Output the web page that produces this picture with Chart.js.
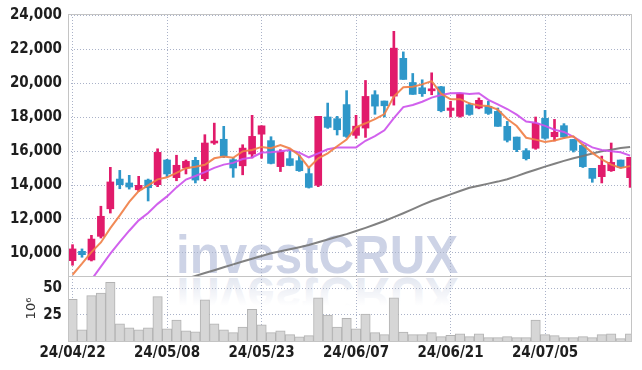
<!DOCTYPE html>
<html>
<head>
<meta charset="utf-8">
<script src="https://cdn.jsdelivr.net/npm/chart.js@4.4.1/dist/chart.umd.min.js"></script>
<style>
    html, body { margin: 0; padding: 0; background: #fff; }
    #wrap { position: relative; width: 642px; height: 370px; overflow: hidden; }
    .wm {
        position: absolute; left: 176px;
        font: bold 53px "Liberation Sans", Arial, sans-serif; line-height: 53px;
        color: #cdd3e6; white-space: nowrap;
    }
    #wmMain { top: 228px; transform-origin: 0 0; transform: scaleX(0.93); }
    #reflBox { position: absolute; left: 0; top: 276px; width: 642px; height: 30px; overflow: hidden; }
    #wmReflect { top: -47px; color: #dbe0ec; transform-origin: 0 47px; transform: scaleX(0.93) scaleY(-1); }
    #reflFade { position: absolute; left: 0; top: 0; width: 100%; height: 100%;
        background: linear-gradient(rgba(255,255,255,0.2), rgba(255,255,255,1)); }
    canvas { position: absolute; left: 0; }
    #priceChart { top: 0; }
    #volumeChart { top: 276px; }
</style>
</head>
<body>
<div id="wrap">
    <div class="wm" id="wmMain">investCRUX</div>
    <div id="reflBox">
        <div class="wm" id="wmReflect">investCRUX</div>
        <div id="reflFade"></div>
    </div>
    <canvas id="priceChart" width="642" height="277"></canvas>
    <canvas id="volumeChart" width="642" height="94"></canvas>
</div>
<script>
// ===== DATA =====
const dates = [
    '24/04/22','24/04/23','24/04/24','24/04/25','24/04/26','24/04/29','24/04/30','24/05/02','24/05/03','24/05/07',
    '24/05/08','24/05/09','24/05/10','24/05/13','24/05/14','24/05/16','24/05/17','24/05/20','24/05/21','24/05/22',
    '24/05/23','24/05/24','24/05/27','24/05/28','24/05/29','24/05/30','24/05/31','24/06/03','24/06/04','24/06/05',
    '24/06/07','24/06/10','24/06/11','24/06/12','24/06/13','24/06/14','24/06/17','24/06/18','24/06/19','24/06/20',
    '24/06/21','24/06/24','24/06/25','24/06/26','24/06/27','24/06/28','24/07/01','24/07/02','24/07/03','24/07/04',
    '24/07/05','24/07/08','24/07/09','24/07/10','24/07/11','24/07/12','24/07/15','24/07/16','24/07/17','24/07/18'
];

const opens = [
    9550, 10100, 9590, 10980, 12600, 14350, 14120, 13720, 14290, 14020,
    15470, 14430, 15000, 15450, 14370, 16470, 16690, 15490, 15130, 15820,
    16990, 16610, 15080, 15550, 15430, 14670, 13980, 18000, 17900, 18730,
    16920, 17350, 19310, 18940, 19230, 21450, 20030, 19720, 19540, 19780,
    18390, 18040, 18720, 18530, 18630, 18330, 17450, 16820, 16020, 16160,
    17920, 16840, 17490, 16680, 16330, 14980, 14490, 14840, 15470, 14430
];
const highs = [
    10490, 10240, 11040, 12750, 15040, 14860, 14570, 14510, 14350, 16130,
    15510, 15750, 15470, 15630, 16960, 17640, 17450, 15590, 16370, 18100,
    17480, 16840, 16080, 16100, 15760, 15000, 18040, 18820, 18040, 19550,
    18100, 20150, 19550, 18940, 23040, 21830, 20560, 20190, 20600, 19800,
    18920, 19370, 18820, 19120, 18920, 18530, 17740, 16820, 16140, 18000,
    18390, 17860, 17610, 16680, 16390, 14980, 15700, 16470, 15470, 15630
];
const lows = [
    9280, 9750, 9530, 10880, 12350, 13780, 13760, 13630, 13060, 13900,
    14490, 14250, 14650, 14120, 14250, 16390, 15610, 14450, 14600, 15590,
    15570, 15240, 14790, 15130, 14800, 13820, 13900, 17330, 16940, 16800,
    16750, 16800, 18160, 18000, 18700, 20210, 19330, 19210, 19310, 18300,
    18000, 17990, 18100, 18480, 18150, 17450, 16530, 15960, 15470, 16100,
    16690, 16590, 16760, 15940, 15030, 14160, 14120, 14800, 15000, 13860
];
const closes = [
    10240, 9900, 10820, 12160, 14180, 14020, 13880, 13980, 13840, 15920,
    14650, 15160, 15390, 14290, 16470, 16550, 15700, 15000, 16170, 16860,
    17480, 15270, 15960, 15150, 14840, 13860, 18040, 17390, 17250, 16860,
    17460, 19210, 18640, 18660, 22050, 20210, 19330, 19370, 19590, 18370,
    18530, 19370, 18150, 18980, 18210, 17450, 16630, 16080, 15550, 17630,
    16750, 17100, 16820, 16040, 15080, 14390, 15160, 15330, 15040, 15630
];

// moving averages (orange, purple, grey)
const ma5 = [
    8720, 9370, 10050, 10620, 11460, 12210, 13010, 13640, 13980, 14330,
    14450, 14710, 14990, 15080, 15190, 15570, 15680, 15600, 15980, 16060,
    16240, 16160, 16350, 16150, 15740, 15020, 15570, 15860, 16280, 16680,
    17400, 17630, 17880, 18170, 19200, 19750, 19780, 19920, 20110, 19370,
    19040, 19050, 18800, 18680, 18650, 18430, 17880, 17470, 16780, 16670,
    16530, 16620, 16770, 16870, 16360, 15890, 15500, 15200, 15000, 15110
];
const ma10 = [
    null, null, 8430, 9200, 9960, 10650, 11310, 11920, 12350, 12890,
    13330, 13860, 14320, 14530, 14760, 15010, 15200, 15300, 15530, 15620,
    15910, 15920, 15980, 16060, 15900, 15630, 15860, 16100, 16210, 16210,
    16210, 16600, 16870, 17220, 17940, 18580, 18710, 18900, 19140, 19290,
    19400, 19410, 19360, 19400, 19010, 18740, 18470, 18140, 17730, 17660,
    17480, 17250, 17120, 16830, 16510, 16210, 16060, 15980, 15930, 15730
];
const ma60 = [
    null, null, null, null, null, null, null, null, null, null,
    null, null, 8480, 8650, 8820, 8990, 9160, 9330, 9500, 9660,
    9820, 9980, 10100, 10220, 10340, 10470, 10630, 10790, 10960, 11110,
    11290, 11480, 11680, 11880, 12110, 12340, 12580, 12830, 13060, 13250,
    13450, 13650, 13840, 13960, 14080, 14200, 14340, 14520, 14720, 14900,
    15080, 15250, 15420, 15570, 15710, 15850, 15990, 16080, 16170, 16240
];

// volume, in millions
const volumes = [
    39.4, 10.6, 43.0, 45.5, 55.7, 16.2, 12.5, 10.6, 12.5, 42.1,
    11.6, 19.9, 9.7, 8.8, 39.1, 16.2, 10.6, 7.9, 13.1, 30.1,
    15.3, 7.9, 9.7, 6.0, 3.9, 5.1, 40.9, 24.5, 13.1, 21.5,
    11.6, 25.5, 7.9, 6.0, 40.9, 8.5, 6.0, 6.0, 7.9, 4.2,
    5.4, 6.9, 4.2, 6.7, 3.2, 3.2, 4.2, 3.2, 3.2, 19.9,
    6.0, 5.1, 3.2, 3.2, 4.2, 3.2, 6.0, 6.9, 2.3, 6.9
];

const priceTicks = [10000, 12000, 14000, 16000, 18000, 20000, 22000, 24000];
const volumeTicks = [25, 50];
const dateTickIdx = [0, 10, 20, 30, 40, 50];

// ===== STYLE =====
const PINK = '#e11b6b';
const BLUE = '#2e97c9';
const GRID = '#aab2c8';
const FRAME = '#c4c4c4';
const TEXT = '#1e1e1e';

Chart.defaults.font.family = "'Liberation Sans Narrow', 'DejaVu Sans Condensed', sans-serif";
Chart.defaults.font.size = 15;
Chart.defaults.font.weight = 'bold';
Chart.defaults.color = TEXT;

const framePlugin = {
    id: 'frame',
    afterDraw(chart) {
        const { ctx, chartArea: a } = chart;
        ctx.save();
        ctx.strokeStyle = FRAME;
        ctx.lineWidth = 1;
        ctx.strokeRect(Math.round(a.left) + 0.5, Math.round(a.top) + 0.5,
            Math.round(a.right - a.left) - 1, Math.round(a.bottom - a.top));
        ctx.restore();
    }
};

// keep chart.js from reserving room for half tick labels at the pane edges
function fixYAxis(ax) {
    ax.width = 68;
    ax.paddingTop = 0;
    ax.paddingBottom = 0;
}
function fixXAxis(ax) {
    ax.paddingLeft = 0;
    ax.paddingRight = 0;
}

const candleColors = closes.map((c, i) => c >= opens[i] ? PINK : BLUE);
const pts = arr => arr.map((v, i) => ({ x: i, y: v }));

const xBase = {
    type: 'linear',
    min: -0.48,
    max: 59.2,
    offset: false,
    afterBuildTicks: ax => { ax.ticks = dateTickIdx.map(v => ({ value: v })); },
    afterFit: fixXAxis,
    grid: { color: GRID, drawTicks: false, offset: false },
    border: { display: false, dash: [1, 2] }
};

// ===== PRICE CHART =====
new Chart(document.getElementById('priceChart'), {
    type: 'bar',
    data: {
        datasets: [
            {
                label: 'MA5', type: 'line', data: pts(ma5), order: 0,
                borderColor: 'rgba(240,128,72,0.92)', borderWidth: 2, pointRadius: 0, tension: 0
            },
            {
                label: 'MA10', type: 'line', data: pts(ma10), order: 0,
                borderColor: 'rgba(205,84,236,0.92)', borderWidth: 2, pointRadius: 0, tension: 0
            },
            {
                label: 'MA60', type: 'line', data: pts(ma60), order: 0,
                borderColor: 'rgba(118,118,118,0.92)', borderWidth: 2, pointRadius: 0, tension: 0
            },
            {
                label: 'Body', data: opens.map((o, i) => ({ x: i, y: [o, closes[i]] })), order: 1,
                backgroundColor: candleColors, barThickness: 7, minBarLength: 2, grouped: false
            },
            {
                label: 'Wick', data: lows.map((l, i) => ({ x: i, y: [l, highs[i]] })), order: 2,
                backgroundColor: candleColors, barThickness: 2, grouped: false
            }
        ]
    },
    options: {
        responsive: false,
        animation: false,
        devicePixelRatio: 1,
        layout: { padding: { left: 0, right: 10, top: 14, bottom: 1 } },
        plugins: { legend: { display: false }, tooltip: { enabled: false } },
        scales: {
            x: Object.assign({}, xBase, { ticks: { display: false } }),
            y: {
                min: 8647,
                max: 24059,
                afterBuildTicks: ax => { ax.ticks = priceTicks.map(v => ({ value: v })); },
                afterFit: fixYAxis,
                ticks: { padding: 6, color: TEXT, callback: v => v.toLocaleString('en-US') },
                grid: { color: GRID, drawTicks: false },
                border: { display: false, dash: [1, 2] }
            }
        }
    },
    plugins: [framePlugin]
});

// ===== VOLUME CHART =====
new Chart(document.getElementById('volumeChart'), {
    type: 'bar',
    data: {
        datasets: [{
            label: 'Volume',
            data: pts(volumes),
            backgroundColor: '#d6d6d6',
            borderColor: '#b2b2b2',
            borderWidth: 1,
            barPercentage: 1,
            categoryPercentage: 1
        }]
    },
    options: {
        responsive: false,
        animation: false,
        devicePixelRatio: 1,
        layout: { padding: { left: 0, right: 10, top: 0, bottom: 5 } },
        plugins: { legend: { display: false }, tooltip: { enabled: false } },
        scales: {
            x: Object.assign({}, xBase, {
                ticks: {
                    padding: 3, color: TEXT, maxRotation: 0, autoSkip: false,
                    callback: v => dates[v]
                }
            }),
            y: {
                min: 0,
                max: 61.6,
                afterBuildTicks: ax => { ax.ticks = volumeTicks.map(v => ({ value: v })); },
                afterFit: fixYAxis,
                ticks: { padding: 6, color: TEXT },
                title: {
                    display: true, text: '10⁶', color: '#333', padding: { top: 24, bottom: 0 },
                    font: { family: "'DejaVu Sans', sans-serif", size: 13, weight: 'normal' }
                },
                grid: { color: GRID, drawTicks: false },
                border: { display: false, dash: [1, 2] }
            }
        }
    },
    plugins: [framePlugin]
});
</script>
</body>
</html>
